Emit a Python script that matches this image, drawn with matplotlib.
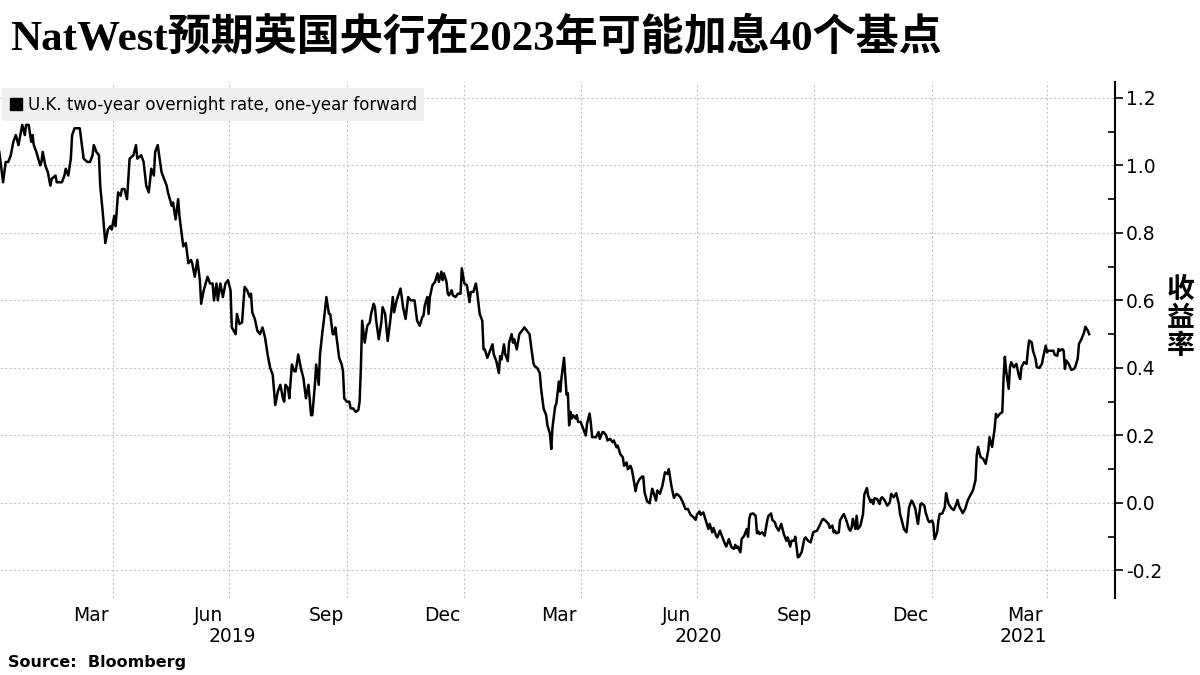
import matplotlib
matplotlib.use('Agg')
import matplotlib.pyplot as plt
import matplotlib.dates as mdates
import matplotlib.transforms as mtransforms
from matplotlib.lines import Line2D
from matplotlib.ticker import MultipleLocator, FuncFormatter
import pandas as pd

plt.rcParams['font.family'] = ['DejaVu Sans', 'Noto Sans CJK SC']
plt.rcParams['axes.unicode_minus'] = False

title = 'NatWest预期英国央行在2023年可能加息40个基点'
series_label = 'U.K. two-year overnight rate, one-year forward'
y_label = '收益率'
source = 'Source:  Bloomberg'

# values (percent)
dates_2019 = [
    '2019-01-02', '2019-01-05', '2019-01-07', '2019-01-09', '2019-01-11', '2019-01-13',
    '2019-01-15', '2019-01-17', '2019-01-19', '2019-01-20', '2019-01-22', '2019-01-23',
    '2019-01-25', '2019-01-27', '2019-01-28', '2019-01-29', '2019-01-31', '2019-02-03',
    '2019-02-04', '2019-02-05', '2019-02-07', '2019-02-09', '2019-02-11', '2019-02-12',
    '2019-02-15', '2019-02-16', '2019-02-20', '2019-02-22', '2019-02-23', '2019-02-25',
    '2019-02-27', '2019-02-28', '2019-03-02', '2019-03-06', '2019-03-07', '2019-03-09',
    '2019-03-12', '2019-03-14', '2019-03-16', '2019-03-17', '2019-03-19', '2019-03-21',
    '2019-03-22', '2019-03-24', '2019-03-26', '2019-03-28', '2019-03-30', '2019-03-31',
    '2019-04-02', '2019-04-03', '2019-04-05', '2019-04-07', '2019-04-08', '2019-04-10',
    '2019-04-12', '2019-04-14', '2019-04-17', '2019-04-19', '2019-04-20', '2019-04-23',
    '2019-04-25', '2019-04-27', '2019-04-29', '2019-05-01', '2019-05-03', '2019-05-04',
    '2019-05-06', '2019-05-09', '2019-05-11', '2019-05-13', '2019-05-14', '2019-05-17',
    '2019-05-18', '2019-05-20', '2019-05-22', '2019-05-23', '2019-05-26', '2019-05-28',
    '2019-05-30', '2019-06-01', '2019-06-02', '2019-06-04', '2019-06-06', '2019-06-08',
    '2019-06-09', '2019-06-11', '2019-06-14', '2019-06-16', '2019-06-18', '2019-06-19',
    '2019-06-21', '2019-06-22', '2019-06-24', '2019-06-26', '2019-06-28', '2019-06-30',
    '2019-07-02', '2019-07-03', '2019-07-06', '2019-07-07', '2019-07-09', '2019-07-11',
    '2019-07-13', '2019-07-15', '2019-07-17', '2019-07-18', '2019-07-19', '2019-07-21',
    '2019-07-23', '2019-07-25', '2019-07-27', '2019-07-29', '2019-07-31', '2019-08-02',
    '2019-08-04', '2019-08-06', '2019-08-08', '2019-08-10', '2019-08-12', '2019-08-13',
    '2019-08-14', '2019-08-16', '2019-08-17', '2019-08-19', '2019-08-21', '2019-08-22',
    '2019-08-24', '2019-08-26', '2019-08-28', '2019-08-30', '2019-08-31', '2019-09-01',
    '2019-09-03', '2019-09-04', '2019-09-06', '2019-09-07', '2019-09-09', '2019-09-10',
    '2019-09-12', '2019-09-13', '2019-09-15', '2019-09-17', '2019-09-18', '2019-09-20',
    '2019-09-21', '2019-09-22', '2019-09-24', '2019-09-25', '2019-09-27', '2019-09-28',
    '2019-09-29', '2019-10-01', '2019-10-03', '2019-10-04', '2019-10-06', '2019-10-08',
    '2019-10-10', '2019-10-11', '2019-10-12', '2019-10-13', '2019-10-15', '2019-10-17',
    '2019-10-19', '2019-10-20', '2019-10-22', '2019-10-23', '2019-10-24', '2019-10-26',
    '2019-10-28', '2019-10-29', '2019-10-31', '2019-11-02', '2019-11-04', '2019-11-06',
    '2019-11-07', '2019-11-09', '2019-11-12', '2019-11-13', '2019-11-14', '2019-11-16',
    '2019-11-18', '2019-11-20', '2019-11-23', '2019-11-25', '2019-11-27', '2019-11-29',
    '2019-11-30', '2019-12-01', '2019-12-03', '2019-12-04', '2019-12-05', '2019-12-07',
    '2019-12-09', '2019-12-11', '2019-12-12', '2019-12-14', '2019-12-15', '2019-12-16',
    '2019-12-18', '2019-12-19', '2019-12-20', '2019-12-22', '2019-12-23', '2019-12-25',
    '2019-12-27', '2019-12-29', '2019-12-30',
]
rate_2019 = [
    1.04, 0.95, 1.01, 1.01, 1.03, 1.07,
    1.09, 1.06, 1.10, 1.12, 1.09, 1.12,
    1.12, 1.07, 1.09, 1.06, 1.04, 1.00,
    1.01, 1.04, 1.00, 0.98, 0.94, 0.96,
    0.97, 0.95, 0.95, 0.97, 0.99, 0.97,
    1.02, 1.09, 1.11, 1.11, 1.08, 1.02,
    1.01, 1.01, 1.03, 1.06, 1.04, 1.03,
    0.94, 0.86, 0.77, 0.81, 0.82, 0.81,
    0.85, 0.82, 0.92, 0.91, 0.93, 0.93,
    0.90, 1.02, 1.03, 1.06, 1.02, 1.03,
    1.01, 0.94, 0.92, 0.99, 0.97, 1.04,
    1.06, 0.98, 0.96, 0.94, 0.92, 0.88,
    0.89, 0.84, 0.90, 0.85, 0.76, 0.77,
    0.71, 0.72, 0.71, 0.67, 0.72, 0.66,
    0.59, 0.63, 0.67, 0.65, 0.65, 0.60,
    0.65, 0.60, 0.65, 0.61, 0.65, 0.66,
    0.63, 0.52, 0.50, 0.56, 0.53, 0.535,
    0.64, 0.63, 0.61, 0.62, 0.565, 0.545,
    0.51, 0.50, 0.52, 0.49, 0.44, 0.40,
    0.38, 0.29, 0.33, 0.35, 0.31, 0.30,
    0.35, 0.34, 0.31, 0.41, 0.39, 0.39,
    0.44, 0.40, 0.37, 0.31, 0.33, 0.35,
    0.26, 0.26, 0.35, 0.41, 0.35, 0.44,
    0.51, 0.54, 0.61, 0.56, 0.56, 0.50,
    0.50, 0.52, 0.46, 0.43, 0.41, 0.39,
    0.31, 0.30, 0.30, 0.28, 0.28, 0.27,
    0.275, 0.30, 0.40, 0.54, 0.475, 0.525,
    0.535, 0.56, 0.59, 0.58, 0.54, 0.485,
    0.535, 0.58, 0.56, 0.48, 0.54, 0.61,
    0.565, 0.60, 0.635, 0.61, 0.58, 0.545,
    0.61, 0.60, 0.60, 0.54, 0.525, 0.55,
    0.555, 0.585, 0.61, 0.56, 0.61, 0.645,
    0.655, 0.68, 0.655, 0.685, 0.66, 0.68,
    0.655, 0.62, 0.615, 0.63, 0.615, 0.61,
    0.62, 0.62, 0.695,
]

dates_2020 = [
    '2020-01-01', '2020-01-03', '2020-01-05', '2020-01-06', '2020-01-08', '2020-01-10',
    '2020-01-11', '2020-01-13', '2020-01-15', '2020-01-16', '2020-01-17', '2020-01-19',
    '2020-01-21', '2020-01-23', '2020-01-24', '2020-01-26', '2020-01-28', '2020-01-29',
    '2020-01-30', '2020-02-01', '2020-02-02', '2020-02-04', '2020-02-05', '2020-02-07',
    '2020-02-08', '2020-02-09', '2020-02-11', '2020-02-13', '2020-02-15', '2020-02-17',
    '2020-02-19', '2020-02-21', '2020-02-22', '2020-02-24', '2020-02-25', '2020-02-27',
    '2020-02-29', '2020-03-01', '2020-03-03', '2020-03-05', '2020-03-06', '2020-03-08',
    '2020-03-09', '2020-03-10', '2020-03-12', '2020-03-13', '2020-03-15', '2020-03-16',
    '2020-03-17', '2020-03-19', '2020-03-21', '2020-03-22', '2020-03-23', '2020-03-24',
    '2020-03-25', '2020-03-26', '2020-03-28', '2020-03-29', '2020-03-30', '2020-04-01',
    '2020-04-03', '2020-04-05', '2020-04-06', '2020-04-08', '2020-04-09', '2020-04-10',
    '2020-04-13', '2020-04-15', '2020-04-16', '2020-04-18', '2020-04-19', '2020-04-21',
    '2020-04-22', '2020-04-24', '2020-04-26', '2020-04-27', '2020-04-29', '2020-04-30',
    '2020-05-02', '2020-05-04', '2020-05-05', '2020-05-07', '2020-05-08', '2020-05-10',
    '2020-05-11', '2020-05-12', '2020-05-14', '2020-05-15', '2020-05-17', '2020-05-19',
    '2020-05-20', '2020-05-21', '2020-05-23', '2020-05-25', '2020-05-27', '2020-05-28',
    '2020-05-30', '2020-05-31', '2020-06-02', '2020-06-04', '2020-06-06', '2020-06-08',
    '2020-06-09', '2020-06-11', '2020-06-13', '2020-06-15', '2020-06-16', '2020-06-18',
    '2020-06-20', '2020-06-22', '2020-06-24', '2020-06-26', '2020-06-28', '2020-06-30',
    '2020-07-01', '2020-07-03', '2020-07-04', '2020-07-06', '2020-07-08', '2020-07-10',
    '2020-07-11', '2020-07-13', '2020-07-14', '2020-07-16', '2020-07-17', '2020-07-19',
    '2020-07-21', '2020-07-23', '2020-07-24', '2020-07-26', '2020-07-28', '2020-07-30',
    '2020-07-31', '2020-08-01', '2020-08-02', '2020-08-04', '2020-08-05', '2020-08-07',
    '2020-08-09', '2020-08-10', '2020-08-11', '2020-08-12', '2020-08-14', '2020-08-16',
    '2020-08-17', '2020-08-18', '2020-08-19', '2020-08-21', '2020-08-23', '2020-08-25',
    '2020-08-26', '2020-08-28', '2020-08-29', '2020-08-31', '2020-09-01', '2020-09-03',
    '2020-09-04', '2020-09-05', '2020-09-07', '2020-09-09', '2020-09-10', '2020-09-12',
    '2020-09-13', '2020-09-15', '2020-09-16', '2020-09-17', '2020-09-18', '2020-09-19',
    '2020-09-21', '2020-09-23', '2020-09-24', '2020-09-26', '2020-09-28', '2020-09-30',
    '2020-10-01', '2020-10-03', '2020-10-05', '2020-10-07', '2020-10-08', '2020-10-10',
    '2020-10-12', '2020-10-13', '2020-10-15', '2020-10-16', '2020-10-17', '2020-10-18',
    '2020-10-20', '2020-10-21', '2020-10-23', '2020-10-24', '2020-10-26', '2020-10-28',
    '2020-10-29', '2020-10-30', '2020-10-31', '2020-11-02', '2020-11-03', '2020-11-04',
    '2020-11-06', '2020-11-08', '2020-11-09', '2020-11-11', '2020-11-12', '2020-11-14',
    '2020-11-15', '2020-11-16', '2020-11-17', '2020-11-19', '2020-11-21', '2020-11-22',
    '2020-11-23', '2020-11-25', '2020-11-27', '2020-11-29', '2020-11-30', '2020-12-02',
    '2020-12-04', '2020-12-06', '2020-12-07', '2020-12-08', '2020-12-10', '2020-12-12',
    '2020-12-13', '2020-12-14', '2020-12-16', '2020-12-17', '2020-12-19', '2020-12-20',
    '2020-12-21', '2020-12-23', '2020-12-24', '2020-12-26', '2020-12-27', '2020-12-29',
    '2020-12-30',
]
rate_2020 = [
    0.65, 0.645, 0.595, 0.625, 0.625, 0.65,
    0.625, 0.56, 0.54, 0.455, 0.455, 0.43,
    0.45, 0.47, 0.44, 0.42, 0.385, 0.435,
    0.425, 0.47, 0.44, 0.42, 0.475, 0.50,
    0.475, 0.485, 0.455, 0.50, 0.51, 0.52,
    0.51, 0.50, 0.47, 0.415, 0.405, 0.40,
    0.385, 0.34, 0.28, 0.26, 0.23, 0.205,
    0.16, 0.225, 0.285, 0.295, 0.36, 0.33,
    0.37, 0.43, 0.32, 0.325, 0.23, 0.27,
    0.25, 0.26, 0.25, 0.26, 0.24, 0.24,
    0.22, 0.20, 0.235, 0.265, 0.235, 0.195,
    0.195, 0.21, 0.19, 0.21, 0.21, 0.20,
    0.185, 0.19, 0.18, 0.185, 0.165, 0.17,
    0.145, 0.135, 0.11, 0.12, 0.10, 0.11,
    0.10, 0.08, 0.035, 0.055, 0.07, 0.078,
    0.078, 0.032, 0.005, -0.001, 0.042, 0.032,
    0.007, 0.037, 0.027, 0.051, 0.091, 0.086,
    0.10, 0.051, 0.015, 0.027, 0.025, 0.017,
    0.002, -0.018, -0.018, -0.035, -0.041, -0.05,
    -0.035, -0.025, -0.035, -0.028, -0.052, -0.077,
    -0.062, -0.087, -0.074, -0.097, -0.102, -0.082,
    -0.102, -0.122, -0.129, -0.107, -0.131, -0.136,
    -0.124, -0.133, -0.129, -0.146, -0.107, -0.097,
    -0.077, -0.10, -0.047, -0.033, -0.031, -0.038,
    -0.09, -0.084, -0.092, -0.087, -0.097, -0.052,
    -0.038, -0.031, -0.05, -0.057, -0.07, -0.082,
    -0.072, -0.062, -0.092, -0.112, -0.102, -0.129,
    -0.112, -0.112, -0.10, -0.131, -0.161, -0.159,
    -0.145, -0.107, -0.102, -0.112, -0.117, -0.087,
    -0.085, -0.082, -0.067, -0.05, -0.047, -0.054,
    -0.062, -0.074, -0.067, -0.087, -0.082, -0.09,
    -0.087, -0.052, -0.038, -0.033, -0.052, -0.077,
    -0.082, -0.074, -0.047, -0.077, -0.038, -0.077,
    -0.067, -0.033, 0.025, 0.044, 0.022, 0.002,
    0.009, -0.003, 0.014, 0.012, -0.003, 0.014,
    0.017, 0.007, -0.008, 0.002, 0.027, 0.017,
    0.029, -0.003, -0.033, -0.047, -0.077, -0.087,
    -0.052, -0.013, 0.007, 0.002, -0.018, -0.042,
    -0.062, -0.003, -0.001, -0.008, -0.028, -0.052,
    -0.057,
]

dates_2021 = [
    '2021-01-01', '2021-01-02', '2021-01-03', '2021-01-05', '2021-01-06', '2021-01-07',
    '2021-01-09', '2021-01-11', '2021-01-12', '2021-01-13', '2021-01-14', '2021-01-16',
    '2021-01-18', '2021-01-20', '2021-01-21', '2021-01-22', '2021-01-25', '2021-01-27',
    '2021-01-29', '2021-01-31', '2021-02-02', '2021-02-04', '2021-02-05', '2021-02-06',
    '2021-02-08', '2021-02-10', '2021-02-12', '2021-02-14', '2021-02-15', '2021-02-17',
    '2021-02-19', '2021-02-20', '2021-02-21', '2021-02-23', '2021-02-25', '2021-02-26',
    '2021-02-27', '2021-02-28', '2021-03-02', '2021-03-03', '2021-03-04', '2021-03-06',
    '2021-03-08', '2021-03-10', '2021-03-11', '2021-03-12', '2021-03-14', '2021-03-16',
    '2021-03-17', '2021-03-18', '2021-03-20', '2021-03-21', '2021-03-23', '2021-03-24',
    '2021-03-26', '2021-03-28', '2021-03-29', '2021-03-31', '2021-04-01', '2021-04-02',
    '2021-04-04', '2021-04-06', '2021-04-07', '2021-04-09', '2021-04-10', '2021-04-11',
    '2021-04-13', '2021-04-14', '2021-04-15', '2021-04-16', '2021-04-18', '2021-04-20',
    '2021-04-22', '2021-04-23', '2021-04-25', '2021-04-26', '2021-04-28', '2021-04-30',
    '2021-05-01', '2021-05-03', '2021-05-04',
]
rate_2021 = [
    -0.052, -0.062, -0.107, -0.087, -0.052, -0.033,
    -0.031, -0.013, 0.029, 0.012, -0.003, -0.015,
    -0.021, -0.003, 0.009, -0.008, -0.03, -0.017,
    0.008, 0.023, 0.037, 0.067, 0.141, 0.166,
    0.136, 0.131, 0.116, 0.156, 0.195, 0.166,
    0.22, 0.264, 0.254, 0.264, 0.269, 0.372,
    0.433, 0.392, 0.338, 0.402, 0.417, 0.402,
    0.412, 0.377, 0.367, 0.402, 0.417, 0.412,
    0.451, 0.481, 0.476, 0.451, 0.427, 0.402,
    0.40, 0.412, 0.432, 0.466, 0.446, 0.451,
    0.451, 0.451, 0.439, 0.436, 0.456, 0.451,
    0.456, 0.451, 0.397, 0.422, 0.412, 0.394,
    0.397, 0.402, 0.427, 0.471, 0.486, 0.505,
    0.522, 0.51, 0.50,
]

dates = pd.to_datetime(dates_2019 + dates_2020 + dates_2021)
rate = rate_2019 + rate_2020 + rate_2021

W, H = 1200, 675
fig = plt.figure(figsize=(W / 100, H / 100), dpi=100)
ax = fig.add_axes([0, 77 / H, 1115 / W, 516 / H])

ax.plot(dates, rate, color='black', lw=1.8)

start = pd.Timestamp('2019-01-01')
x0 = start + pd.Timedelta(days=1.57)
x1 = start + pd.Timedelta(days=874.2)
ax.set_xlim(x0, x1)
ax.set_ylim(-0.2815, 1.247)

# quarter starts carry the gridlines, mid-month ticks carry the labels
ax.xaxis.set_major_locator(mdates.MonthLocator(bymonth=[1, 4, 7, 10]))
ax.xaxis.set_major_formatter(plt.NullFormatter())
ax.xaxis.set_minor_locator(mdates.MonthLocator(bymonth=[3, 6, 9, 12], bymonthday=15))
ax.xaxis.set_minor_formatter(mdates.DateFormatter('%b'))
ax.tick_params(axis='x', which='both', length=0)
ax.tick_params(axis='x', which='minor', labelsize=13.5, pad=6, colors='black')

ax.yaxis.tick_right()
ax.yaxis.set_major_locator(MultipleLocator(0.2))
ax.yaxis.set_minor_locator(MultipleLocator(0.1))
ax.yaxis.set_major_formatter(FuncFormatter(lambda v, p: f'{round(v, 1):.1f}'.replace('-0.0', '0.0')))
ax.tick_params(axis='y', which='major', direction='out', length=6, width=1.2,
               labelsize=13.5, pad=2)
ax.tick_params(axis='y', which='minor', direction='in', length=5, width=1.2)

for side in ['top', 'left', 'bottom']:
    ax.spines[side].set_visible(False)
ax.spines['right'].set_linewidth(1.5)

ax.grid(which='major', color='#c4c4c4', lw=0.8, linestyle=(0, (2, 2)))
ax.set_axisbelow(True)

# year labels centred under the visible part of each year
trans = mtransforms.blended_transform_factory(ax.transData, fig.transFigure)
bounds = [x0, pd.Timestamp('2020-01-01'), pd.Timestamp('2021-01-01'), x1]
for i, yr in enumerate(['2019', '2020', '2021']):
    mid = mdates.date2num(bounds[i]) / 2 + mdates.date2num(bounds[i + 1]) / 2
    ax.text(mid, 1 - 637 / H, yr, transform=trans, ha='center', va='center', fontsize=13.5)

handle = Line2D([0], [0], marker='s', color='black', linestyle='none', markersize=8)
ax.legend([handle], [series_label], loc='upper left',
          bbox_to_anchor=(2 / W, 1 - 88 / H), bbox_transform=fig.transFigure,
          frameon=True, facecolor='#efefef', edgecolor='none', framealpha=1,
          fancybox=False, borderpad=0.45, handletextpad=0.3, handlelength=0.8,
          borderaxespad=0, fontsize=12)

fig.text(10 / W, 1 - 38 / H, title, fontsize=31, fontweight='bold',
         family=['Liberation Serif', 'Noto Sans CJK SC'], va='center', ha='left')
fig.text(1181 / W, 1 - 318 / H, '\n'.join(y_label), fontsize=20, fontweight='bold',
         family=['Noto Sans CJK SC'], ha='center', va='center', linespacing=1.0)
fig.text(8 / W, 1 - 663 / H, source, fontsize=11.5, fontweight='bold', va='center', ha='left')

fig.savefig('out.png', dpi=100)
